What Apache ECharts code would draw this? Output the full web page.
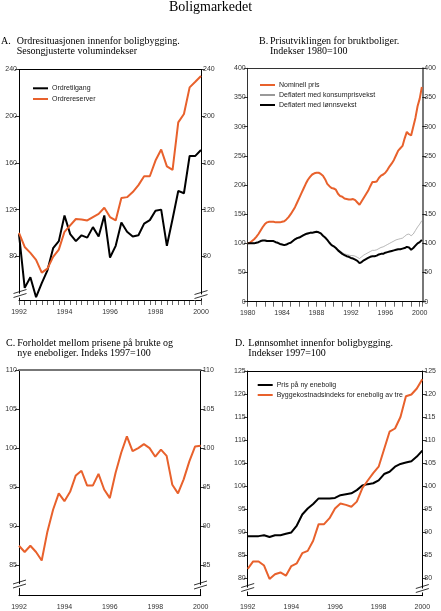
<!DOCTYPE html>
<html><head><meta charset="utf-8">
<script src="https://cdn.jsdelivr.net/npm/echarts@6/dist/echarts.min.js"></script>
<style>html,body{margin:0;padding:0;background:#fff}#c{width:441px;height:611px}</style>
</head><body><div id="c"></div>
<script>
// ---- Panel A: quarterly 1992Q1-2000Q1 ----
const ordretilgang = [99, 53, 62, 45, 57, 68, 87, 93, 115, 99, 93, 98, 96, 105, 97, 115, 79, 89, 109, 101, 97, 98, 108, 111, 119, 120, 89, 112, 136, 134, 166, 166, 171];
const ordrereserver = [100, 88, 83, 77, 66, 69.5, 79.5, 85.7, 101, 106.5, 112, 111.6, 110.7, 113.6, 116.4, 121.6, 113.6, 110.7, 130, 130.7, 135, 141, 148.6, 148.6, 162, 171.5, 157, 154, 194.7, 201.9, 224.7, 229.5, 234.4];
const ticksA = [80, 120, 160, 200, 240];

// ---- Panel B: quarterly 1980Q1-2000Q2 ----
const nominellPris = [100,101,104,107, 111,116,122,128, 133,136,137,137, 137,136,136,136, 137,138,141,145, 150,156,162,170, 178,186,194,202, 209,214,218,220, 221,221,219,216, 210,202,198,195, 194,192,185,181, 180,177,176,175, 175,176,174,170, 166,172,178,184, 190,198,205,205, 206,212,216,218, 221,226,232,237, 243,251,259,263, 267,280,291,287, 285,300,315,335, 348,368];
const deflKonsum = [100,100,100,100, 101,102,104,105, 105,104,104,104, 104,102,101,99, 98,97,98,100, 102,105,108,110, 111,113,115,117, 118,119,119,120, 120,119,117,114, 111,107,102,98, 96,93,90,87, 84,82,81,80, 79,79,78,76, 74,77,80,82, 84,86,88,88, 89,91,93,94, 96,98,100,102, 104,106,107,108, 109,112,115,116, 113,116,122,128, 133,139];
const deflLonn = [100,100,100,100, 101,102,104,105, 105,104,104,104, 104,102,101,99, 98,97,98,100, 101,104,107,109, 110,112,114,116, 117,118,118,119, 120,119,117,113, 110,106,101,97, 95,92,88,85, 82,80,78,77, 75,74,72,70, 66,68,71,73, 75,77,78,78, 79,81,82,82, 84,85,86,87, 88,89,90,90, 91,92,94,93, 89,92,96,100, 102,106];
const ticksB = [0, 50, 100, 150, 200, 250, 300, 350, 400];

// ---- Panel C: quarterly 1992Q1-2000Q1 ----
const forholdet = [87.5, 86.7, 87.5, 86.7, 85.6, 89.3, 92.1, 94.2, 93.2, 94.4, 96.5, 97.1, 95.2, 95.2, 96.7, 94.7, 93.6, 96.8, 99.4, 101.5, 99.6, 100.0, 100.5, 100.0, 98.9, 99.8, 99.0, 95.3, 94.2, 96.0, 98.3, 100.2, 100.3];
const ticksC = [85, 90, 95, 100, 105, 110];

// ---- Panel D: quarterly 1992Q1-2000Q1 ----
const prisNyEnebolig = [89.1, 89.1, 89.1, 89.3, 88.9, 89.3, 89.3, 89.6, 89.9, 91.4, 93.8, 95.1, 96.1, 97.3, 97.3, 97.3, 97.4, 98.0, 98.2, 98.4, 99.1, 100.1, 100.4, 100.6, 101.2, 102.6, 103.1, 104.2, 104.8, 105.1, 105.4, 106.4, 107.7];
const byggekostnad = [82.0, 83.6, 83.6, 82.7, 79.8, 80.8, 81.2, 80.5, 82.6, 83.2, 85.4, 85.9, 88.1, 91.7, 91.7, 93.0, 95.1, 96.2, 95.9, 95.5, 96.6, 99.5, 101.2, 102.8, 104.2, 108.0, 111.8, 112.5, 115.0, 119.5, 119.9, 121.2, 123.2];
const ticksD = [80, 85, 90, 95, 100, 105, 110, 115, 120, 125];

const ORANGE = '#e8612c';
const SANS = 'Liberation Sans';
const SERIF = 'Liberation Serif';
const lab = {fontFamily: SANS, fontSize: 7, color: '#333'};

function q(start, arr) { return arr.map((v, i) => [start + i / 4, v]); }

function yPair(g, min, max, vals, cL, cR, wR) {
  const base = {
    type: 'value', gridIndex: g, min: min, max: max, splitLine: {show: false},
    axisTick: {show: true, customValues: vals, length: 4, lineStyle: {color: '#000', width: 0.8}},
    axisLabel: Object.assign({customValues: vals, margin: 2}, lab)
  };
  return [
    Object.assign({}, base, {position: 'left', axisLine: {show: true, lineStyle: {color: cL, width: 1}}}),
    Object.assign({}, base, {position: 'right', axisLine: {show: true, lineStyle: {color: cR, width: wR}}})
  ];
}
function xPair(g, min, max, interval, every, ticks, topColor, topW, margin) {
  return [
    {type: 'value', gridIndex: g, position: 'bottom', min: min, max: max, interval: interval,
     splitLine: {show: false},
     axisLine: {show: true, onZero: false, lineStyle: {color: '#000', width: 1}},
     axisTick: {show: ticks, inside: false, length: 5, lineStyle: {color: '#000', width: 0.6}},
     axisLabel: Object.assign({margin: margin, formatter: function (v) {
        const r = Math.round(v);
        return (Math.abs(v - r) < 1e-6 && r % every === 0) ? String(r) : '';
     }}, lab)},
    {type: 'value', gridIndex: g, position: 'top', min: min, max: max,
     splitLine: {show: false}, axisTick: {show: false}, axisLabel: {show: false},
     axisLine: {show: true, onZero: false, lineStyle: {color: topColor, width: topW}}}
  ];
}
function line(name, xi, data, color, w) {
  return {type: 'line', name: name, xAxisIndex: xi, yAxisIndex: xi, data: data,
    symbol: 'none', lineStyle: {color: color, width: w}, itemStyle: {color: color},
    animation: false, z: 3};
}
function txt(x, y, s, size, align) {
  return {type: 'text', x: x, y: y, z: 10, style: {text: s, fontFamily: SERIF, fontSize: size,
    fill: '#000', align: align || 'left', verticalAlign: 'middle'}};
}
function brk(cx, cy) {
  return {type: 'group', z: 20, children: [
    {type: 'polygon', shape: {points: [[cx - 6.5, cy + 2], [cx + 6.5, cy - 2], [cx + 6.5, cy + 2], [cx - 6.5, cy + 6]]}, style: {fill: '#fff'}, z: 20},
    {type: 'polyline', shape: {points: [[cx - 6.5, cy], [cx + 6.5, cy - 4]]}, style: {stroke: '#000', lineWidth: 0.8}, z: 21},
    {type: 'polyline', shape: {points: [[cx - 6.5, cy + 4], [cx + 6.5, cy]]}, style: {stroke: '#000', lineWidth: 0.8}, z: 21}
  ]};
}
function leg(left, top, names, gap) {
  return {left: left, top: top, orient: 'vertical', padding: 0, itemGap: gap, itemWidth: 15, itemHeight: 7,
    selectedMode: false, data: names, itemStyle: {opacity: 0},
    textStyle: {fontFamily: SANS, fontSize: 7, color: '#222', padding: [0, 0, 0, -1]}};
}

const chart = echarts.init(document.getElementById('c'), null, {renderer: 'canvas'});
chart.setOption({
  animation: false,
  backgroundColor: '#fff',
  grid: [
    {left: 19, top: 69.5, width: 182, height: 230.5},
    {left: 247.7, top: 68.3, width: 174.6, height: 233.4},
    {left: 19, top: 370, width: 181.7, height: 225.7},
    {left: 247.7, top: 371, width: 174.6, height: 224.7}
  ],
  xAxis: [].concat(
    xPair(0, 1992, 2000, 0.25, 2, true, '#000', 1, 9),
    xPair(1, 1980, 2000.3, 1, 4, true, '#333', 1, 7.5),
    xPair(2, 1992, 2000, 2, 2, false, '#777', 2, 7.5),
    xPair(3, 1992, 2000, 2, 2, false, '#000', 1, 7.5)
  ),
  yAxis: [].concat(
    yPair(0, 42.6, 240, ticksA, '#000', '#000', 1),
    yPair(1, 0, 400, ticksB, '#333', '#777', 2),
    yPair(2, 81.1, 110, ticksC, '#000', '#000', 1),
    yPair(3, 76.15, 125, ticksD, '#000', '#000', 1)
  ),
  legend: [
    leg(32, 84.8, ['Ordretilgang', 'Ordrereserver'], 3.7),
    leg(259, 81.5, ['Nominell pris', 'Deflatert med konsumprisvekst', 'Deflatert med lønnsvekst'], 3),
    leg(256.7, 381.5, ['Pris på ny enebolig', 'Byggekostnadsindeks for enebolig av tre'], 3)
  ],
  series: [
    line('Ordretilgang', 0, q(1992, ordretilgang), '#000', 2),
    line('Ordrereserver', 0, q(1992, ordrereserver), ORANGE, 2),
    line('Nominell pris', 2, q(1980, nominellPris), ORANGE, 2),
    line('Deflatert med konsumprisvekst', 2, q(1980, deflKonsum), '#999', 0.7),
    line('Deflatert med lønnsvekst', 2, q(1980, deflLonn), '#000', 2),
    line('Forholdet', 4, q(1992, forholdet), ORANGE, 2),
    line('Pris på ny enebolig', 6, q(1992, prisNyEnebolig), '#000', 2),
    line('Byggekostnadsindeks for enebolig av tre', 6, q(1992, byggekostnad), ORANGE, 2)
  ],
  graphic: [
    txt(210.5, 7.8, 'Boligmarkedet', 14, 'center'),
    txt(1, 41, 'A.', 10), txt(16.7, 41, 'Ordresituasjonen innenfor boligbygging.', 10), txt(16.7, 51.5, 'Sesongjusterte volumindekser', 10),
    txt(259, 41, 'B.', 10), txt(270, 41, 'Prisutviklingen for bruktboliger.', 10), txt(270, 51.5, 'Indekser 1980=100', 10),
    txt(6, 343.3, 'C.', 10), txt(17.3, 343.3, 'Forholdet mellom prisene på brukte og', 10), txt(17.3, 353.8, 'nye eneboliger. Indeks 1997=100', 10),
    txt(235, 343.3, 'D.', 10), txt(248.3, 343.3, 'Lønnsomhet innenfor boligbygging.', 10), txt(248.3, 353.8, 'Indekser 1997=100', 10),
    brk(20, 293.5), brk(201, 294.5),
    brk(19.5, 584), brk(200.5, 585),
    brk(247.7, 587.5), brk(422.3, 588.5)
  ]
});
</script>
</body></html>
